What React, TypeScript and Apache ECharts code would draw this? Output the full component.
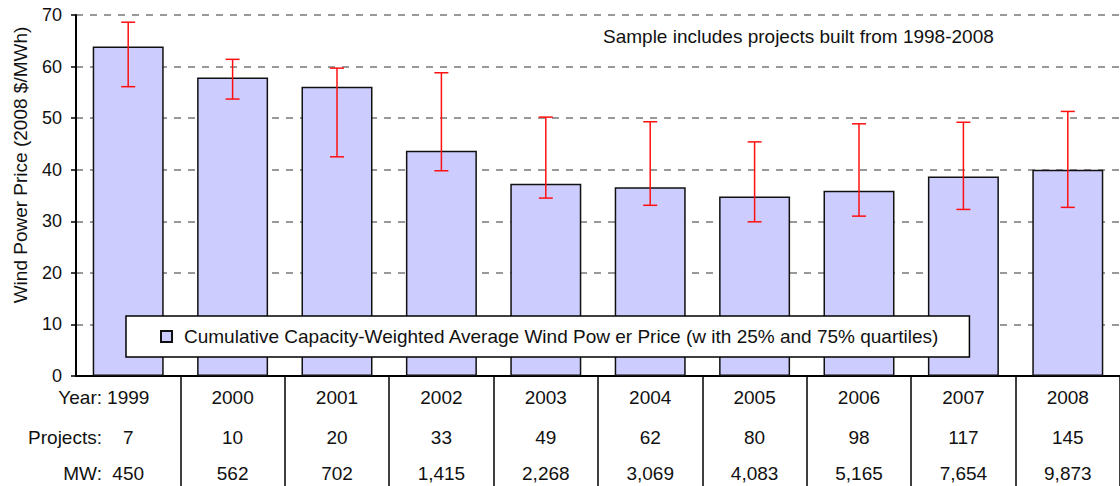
import React, { useEffect, useRef } from 'react';
import * as echarts from 'echarts';

const years = ['1999', '2000', '2001', '2002', '2003', '2004', '2005', '2006', '2007', '2008'];
const projects = ['7', '10', '20', '33', '49', '62', '80', '98', '117', '145'];
const capacityMW = ['450', '562', '702', '1,415', '2,268', '3,069', '4,083', '5,165', '7,654', '9,873'];
const avgPrice = [63.9, 57.9, 56.1, 43.7, 37.3, 36.6, 34.8, 35.9, 38.7, 40.0];
const quartile25 = [56.1, 53.7, 42.5, 39.8, 34.5, 33.1, 29.9, 31.0, 32.3, 32.7];
const quartile75 = [68.6, 61.4, 59.7, 58.8, 50.2, 49.3, 45.4, 48.9, 49.2, 51.3];
const rowLabels = ['Year:', 'Projects:', 'MW:'];
const seriesName = 'Cumulative Capacity-Weighted Average Wind Pow er Price (w ith 25% and 75% quartiles)';
const noteText = 'Sample includes projects built from 1998-2008';
const yAxisTitle = 'Wind Power Price (2008 $/MWh)';

const FONT = '"Liberation Sans", Arial, sans-serif';
const TXT = '#111';

export default function App() {
  const ref = useRef<HTMLDivElement>(null);
  useEffect(() => {
    if (!ref.current) return;
    const chart = echarts.init(ref.current, null, { renderer: 'svg' });
    const option: any = {
      animation: false,
      backgroundColor: '#fff',
      textStyle: { fontFamily: FONT },
      grid: { left: 76, top: 15, width: 1050, height: 361, containLabel: false },
      legend: {
        data: [seriesName],
        left: 126,
        top: 316,
        padding: [11, 30, 11, 34],
        backgroundColor: '#fff',
        borderColor: '#000',
        borderWidth: 1.5,
        borderRadius: 0,
        icon: 'rect',
        itemWidth: 11,
        itemHeight: 11,
        selectedMode: false,
        textStyle: { fontFamily: FONT, fontSize: 19, color: TXT, padding: [0, 0, 0, 7] },
      },
      xAxis: {
        type: 'category',
        data: years,
        boundaryGap: true,
        axisLine: { show: true, lineStyle: { color: '#000', width: 2 } },
        axisTick: {
          show: true,
          length: 112,
          interval: (i: number) => i !== 0,
          lineStyle: { color: '#000', width: 1.5 },
        },
        axisLabel: {
          interval: 0,
          margin: 1,
          formatter: (v: string, i: number) => `{y|${v}}\n{p|${projects[i]}}\n{m|${capacityMW[i]}}`,
          rich: {
            y: { fontFamily: FONT, fontSize: 19, lineHeight: 40, color: TXT },
            p: { fontFamily: FONT, fontSize: 19, lineHeight: 40, color: TXT },
            m: { fontFamily: FONT, fontSize: 19, lineHeight: 32, color: TXT },
          },
        },
        splitLine: { show: false },
      },
      yAxis: {
        type: 'value',
        min: 0,
        max: 70,
        interval: 10,
        axisLine: { show: true, lineStyle: { color: '#000', width: 2 } },
        axisTick: { show: true, inside: false, length: 5, lineStyle: { color: '#000', width: 1.5 } },
        axisLabel: { margin: 14, fontFamily: FONT, fontSize: 18, color: TXT },
        splitLine: { show: true, lineStyle: { color: '#999', width: 2, type: [7, 7] } },
      },
      series: [
        {
          name: seriesName,
          type: 'bar',
          data: avgPrice,
          barWidth: '68%',
          itemStyle: { color: '#CCCCFF', borderColor: '#111', borderWidth: 1.5 },
          z: 2,
        },
        {
          name: 'quartiles',
          type: 'custom',
          coordinateSystem: 'cartesian2d',
          encode: { x: 0, y: [1, 2] },
          data: years.map((_, i) => [i, quartile25[i], quartile75[i]]),
          z: 3,
          renderItem: (params: any, api: any) => {
            const idx = api.value(0);
            const lo = api.coord([idx, api.value(1)]);
            const hi = api.coord([idx, api.value(2)]);
            const hw = 7;
            const style = { stroke: '#FF1010', lineWidth: 1.5 };
            return {
              type: 'group',
              children: [
                { type: 'line', shape: { x1: hi[0], y1: hi[1], x2: lo[0], y2: lo[1] }, style },
                { type: 'line', shape: { x1: hi[0] - hw, y1: hi[1], x2: hi[0] + hw, y2: hi[1] }, style },
                { type: 'line', shape: { x1: lo[0] - hw, y1: lo[1], x2: lo[0] + hw, y2: lo[1] }, style },
              ],
            };
          },
        },
      ],
      graphic: [
        {
          type: 'text',
          x: 20,
          y: 165,
          rotation: Math.PI / 2,
          style: { text: yAxisTitle, fontFamily: FONT, fontSize: 19, fill: TXT, align: 'center', verticalAlign: 'middle' },
        },
        {
          type: 'text',
          x: 603,
          y: 36,
          style: { text: noteText, fontFamily: FONT, fontSize: 19, fill: TXT, align: 'left', verticalAlign: 'middle' },
        },
        ...rowLabels.map((t, i) => ({
          type: 'text',
          x: 102,
          y: [397, 437, 473][i],
          style: { text: t, fontFamily: FONT, fontSize: 19, fill: TXT, align: 'right', verticalAlign: 'middle' },
        })),
      ],
    };
    chart.setOption(option);
    return () => chart.dispose();
  }, []);
  return (
    <div
      ref={ref}
      style={{ position: 'fixed', left: 0, top: 0, width: 1120, height: 486, background: '#fff' }}
    />
  );
}
